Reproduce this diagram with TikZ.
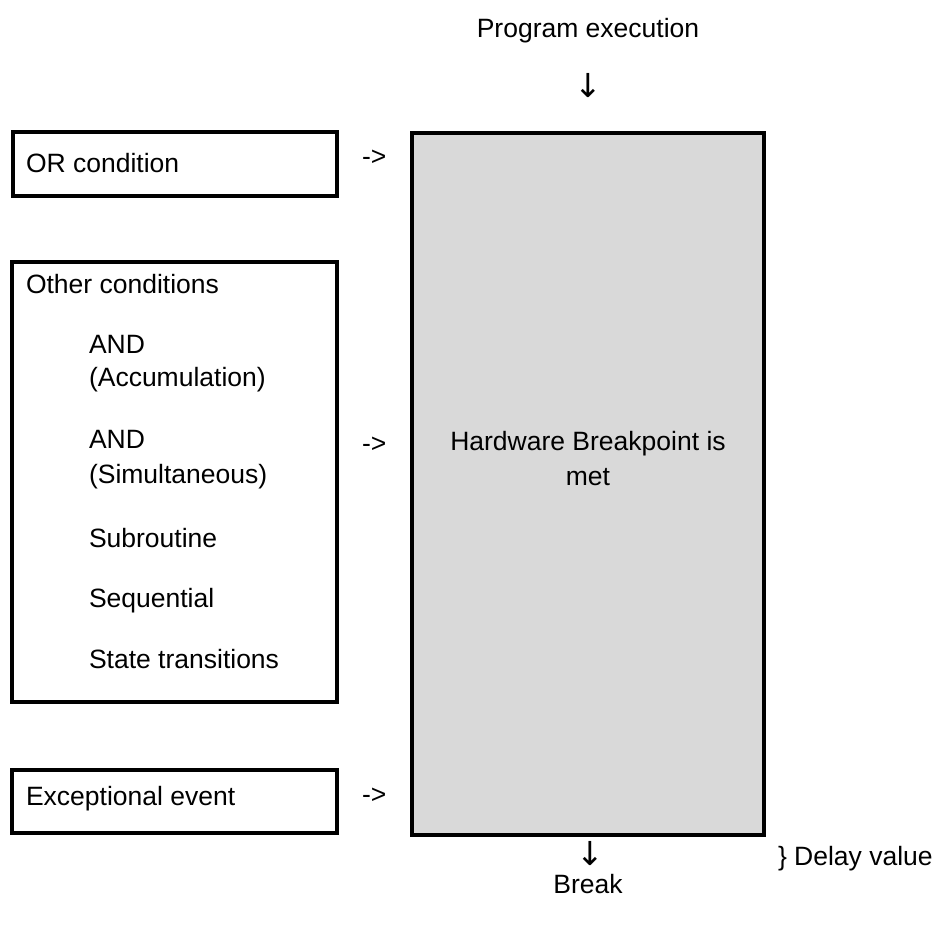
\documentclass[tikz,border=0pt]{standalone}
\usepackage{fontspec}
\setmainfont{Liberation Sans}
\newfontfamily\arrowfont{DejaVu Sans}
\begin{document}
\begin{tikzpicture}[x=1pt,y=-1pt,
  every node/.style={inner sep=0pt,outer sep=0pt,font=\fontsize{26.5}{31}\selectfont},
  framebox/.style={draw=black,line width=4pt},
  greybox/.style={draw=black,line width=4pt,fill=boxgrey},
  lbl/.style={anchor=base west},
  clbl/.style={anchor=base},
  arrowglyph/.style={font=\arrowfont\fontsize{33}{36}\selectfont}]
\definecolor{boxgrey}{HTML}{D9D9D9}
\useasboundingbox (0,0) rectangle (940,926);
% boxes
\draw[framebox] (13,132) rectangle (337,196);
\draw[framebox] (12,262) rectangle (337,702);
\draw[framebox] (12,770) rectangle (337,833);
\draw[greybox] (412,133) rectangle (764,835);
% left box texts
\node[lbl] (orc) at (26,172) {OR condition};
\node[lbl] (oth) at (26,293) {Other conditions};
\node[lbl] (and1) at (89,353) {AND};
\node[lbl] (acc) at (89,386) {(Accumulation)};
\node[lbl] (and2) at (89,448) {AND};
\node[lbl] (sim) at (89,483) {(Simultaneous)};
\node[lbl] (sub) at (89,547) {Subroutine};
\node[lbl] (seq) at (89,607) {Sequential};
\node[lbl] (st) at (89,668) {State transitions};
\node[lbl] (exc) at (26,805) {Exceptional event};
% arrows as text
\node[lbl] (a1) at (362,165) {->};
\node[lbl] (a2) at (362,452) {->};
\node[lbl] (a3) at (362,803) {->};
% main box text
\node[clbl] (hw1) at (588,450) {Hardware Breakpoint is};
\node[clbl] (hw2) at (588,485) {met};
% top and bottom
\node[clbl] (prog) at (588,37) {Program execution};
\node[arrowglyph] (dn1) at (588,86) {↓};
\node[arrowglyph] (dn2) at (590,854) {↓};
\node[lbl] (delay) at (778,865) {\} Delay value};
\node[clbl] (brk) at (588,893) {Break};
\end{tikzpicture}
\end{document}
